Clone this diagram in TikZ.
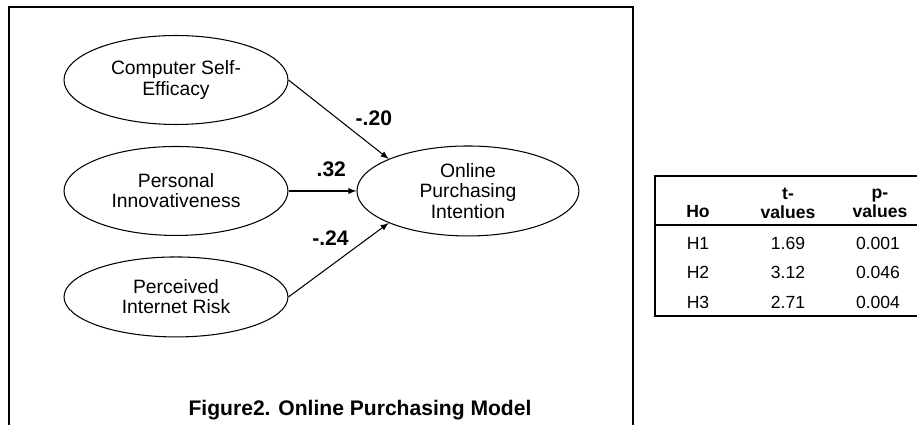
\documentclass[tikz,border=0pt]{standalone}
\usepackage{fontspec}
\setmainfont{Liberation Sans}
\usetikzlibrary{shapes.geometric,arrows}

\begin{document}
\begin{tikzpicture}[x=0.02cm,y=-0.02cm,auto,node distance=2.22cm,
    var/.style={ellipse,draw,semithick,minimum width=4.48cm,minimum height=1.78cm,inner sep=0pt,align=center,font=\fontsize{11}{11.5}\selectfont},
    coef/.style={inner sep=2pt,font=\fontsize{12}{14}\selectfont\bfseries},
    cell/.style={align=center,font=\fontsize{10}{10.8}\selectfont}]
    \useasboundingbox (0,0) rectangle (917,425);
    \draw[semithick] (9,425) -- (9,7) -- (633,7) -- (633,425);
    \node[var] (1) at (176,80) {Computer Self-\\Efficacy};
    \node[var] (2) [below of=1] {Personal\\Innovativeness};
    \node[var,minimum height=1.6cm] (3) [below of=2, node distance=2.12cm] {Perceived\\Internet Risk};
    \node[var,minimum width=4.44cm,minimum height=1.8cm] (4) [right of=2, node distance=5.84cm] {Online\\Purchasing\\Intention};
    \draw [-latex,semithick] (1.east) -- (4.158)node[coef,pos=0.63] {-.20};
    \draw [-latex,semithick] (2.east) -- (4.west)node[coef,pos=0.63,yshift=6pt] {.32};
    \draw [-latex,semithick] (3.east) -- (4.202)node[coef,pos=0.64] {-.24};
    \node[font=\fontsize{12}{14}\selectfont\bfseries] (5) at (360,410) {Figure2. Online Purchasing Model};
    % table
    \draw[line width=1pt] (917,176) -- (655,176) -- (655,316) -- (917,316);
    \draw[line width=1pt] (655,225) -- (917,225);
    \node[cell,font=\fontsize{10}{10.8}\selectfont\bfseries] (6) at (698,212) {Ho};
    \node[cell,font=\fontsize{10}{10.8}\selectfont\bfseries] (7) at (788,203) {t-\\values};
    \node[cell,font=\fontsize{10}{10.8}\selectfont\bfseries] (8) at (880,203) {p-\\values};
    \node[cell] (9) at (698,243) {H1};
    \node[cell] (10) at (788,243) {1.69};
    \node[cell] (11) at (878,243) {0.001};
    \node[cell] (12) at (698,272) {H2};
    \node[cell] (13) at (788,272) {3.12};
    \node[cell] (14) at (878,272) {0.046};
    \node[cell] (15) at (698,302) {H3};
    \node[cell] (16) at (788,302) {2.71};
    \node[cell] (17) at (878,302) {0.004};
\end{tikzpicture}
\end{document}
